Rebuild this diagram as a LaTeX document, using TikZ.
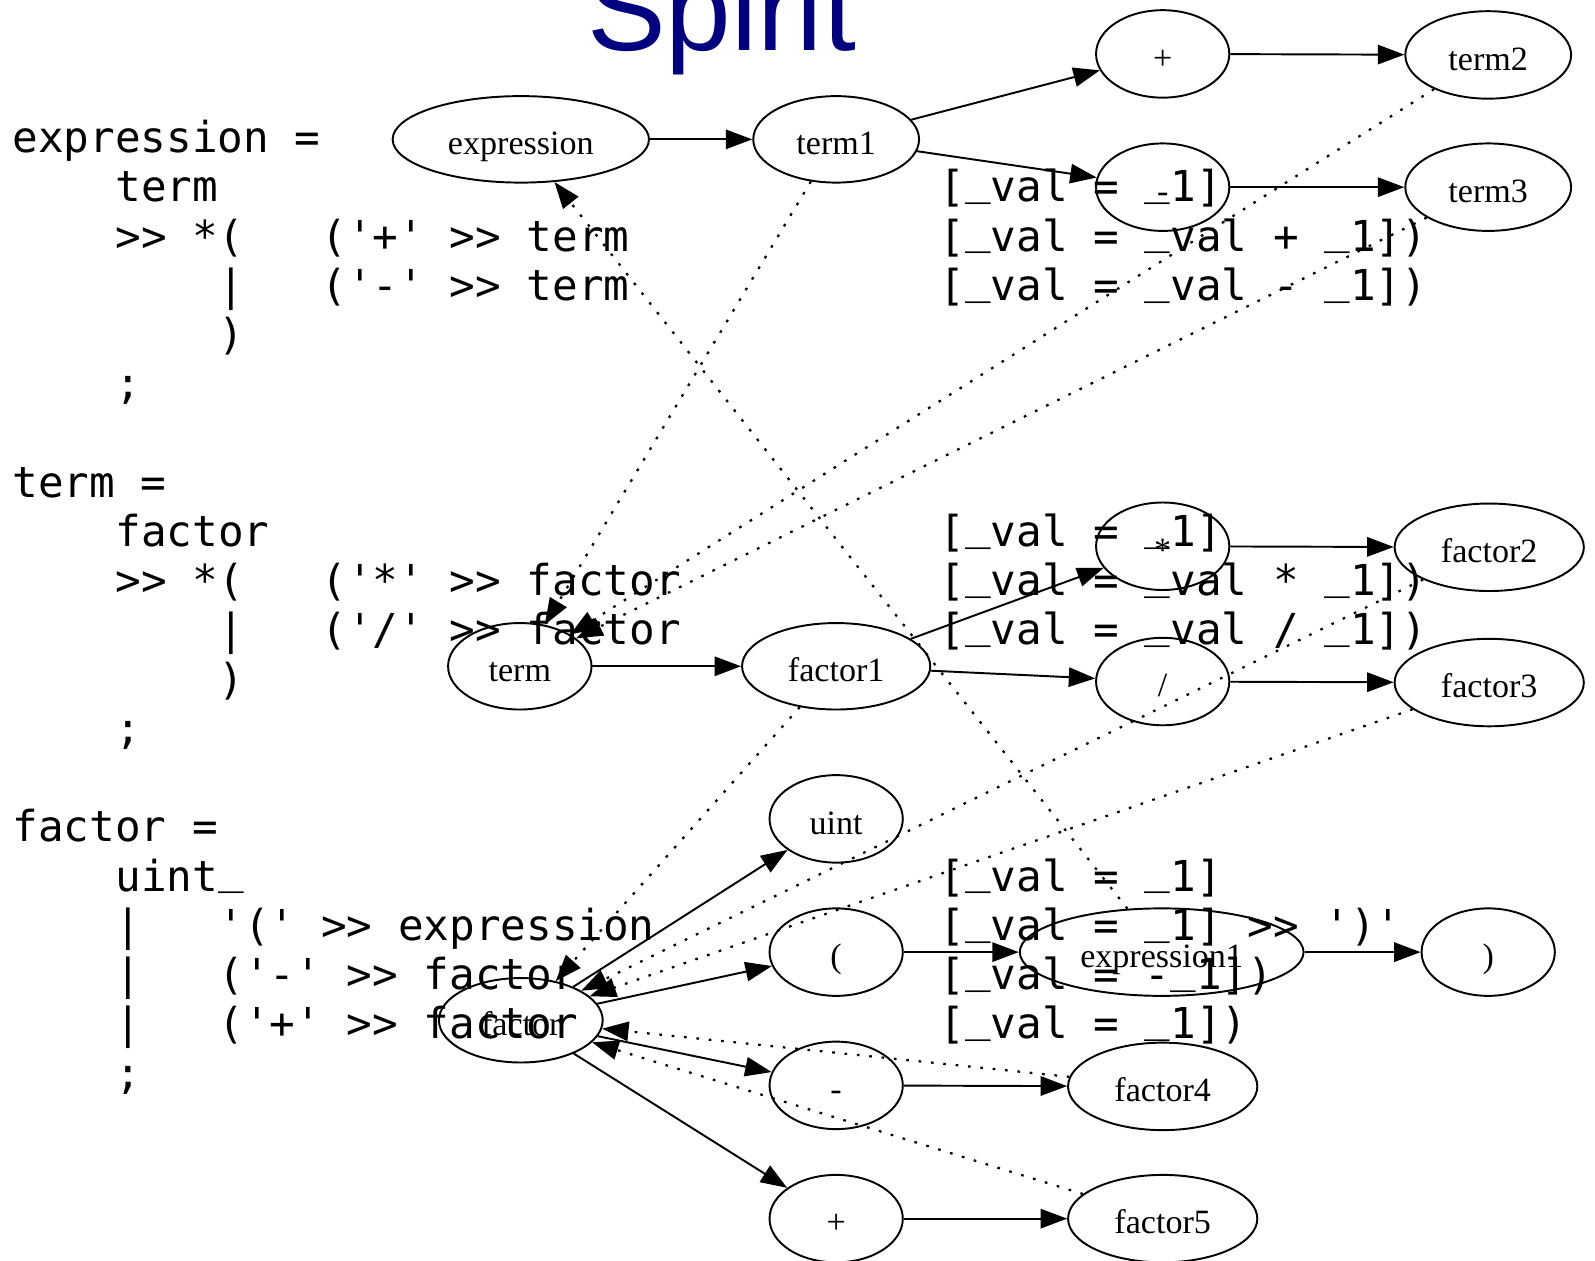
\documentclass[tikz,border=0pt]{standalone}
\usepackage{fontspec}
\setmainfont{Liberation Serif}
\setsansfont{Liberation Sans}
\setmonofont{DejaVu Sans Mono}[WordSpace={1,0,0}]
\usetikzlibrary{shapes.geometric,arrows.meta}
\definecolor{spiritblue}{RGB}{0,0,128}
% underscore sitting on the baseline
\newcommand\us{\raisebox{0.17em}{\_}}

\begin{document}
\begin{tikzpicture}[x=1pt,y=-1pt,
  gnode/.style={ellipse, draw, line width=1.9pt, inner sep=0pt,
    font=\fontsize{33.5}{36}\selectfont, text height=30pt, text depth=0pt},
  opnode/.style={gnode, minimum width=131pt, minimum height=86pt},
  edge/.style={line width=1.9pt, -{Triangle[length=26pt,width=19pt]}},
  refedge/.style={edge, line width=2.2pt, dash pattern=on 2.6pt off 9.6pt},
  code/.style={anchor=base west, inner sep=0pt,
    font=\ttfamily\frenchspacing\fontsize{41.9}{48.4}\selectfont},
  title/.style={anchor=base west, inner sep=0pt, text=spiritblue,
    font=\sffamily\fontsize{116}{116}\selectfont}]

\useasboundingbox (0,0) rectangle (1568,1239);
\clip (0,0) rectangle (1568,1239);

\node[title] (title) at (577,50) {Spirit};

% ---- expression rule ----
\node[gnode, minimum width=252pt, minimum height=85pt] (expr)   at (512,137) {expression};
\node[gnode, minimum width=163pt, minimum height=85pt] (term1)  at (822,137) {term1};
\node[opnode]                                          (plusA)  at (1143,53) {+};
\node[gnode, minimum width=163pt, minimum height=86pt] (term2)  at (1463,54) {term2};
\node[opnode]                                          (minusA) at (1143,184) {-};
\node[gnode, minimum width=163pt, minimum height=86pt] (term3)  at (1463,184) {term3};

% ---- term rule ----
\node[gnode, minimum width=141pt, minimum height=85pt] (term)    at (511,655) {term};
\node[gnode, minimum width=185pt, minimum height=85pt] (factor1) at (822,655) {factor1};
\node[opnode]                                          (star)    at (1143,537) {*};
\node[gnode, minimum width=186pt, minimum height=86pt] (factor2) at (1464,538) {factor2};
\node[opnode]                                          (slash)   at (1143,670) {/};
\node[gnode, minimum width=186pt, minimum height=86pt] (factor3) at (1464,671) {factor3};

% ---- factor rule ----
\node[gnode, minimum width=161pt, minimum height=83pt] (factor)  at (512,1003) {factor};
\node[opnode]                                          (uint)    at (822,805) {uint};
\node[opnode]                                          (lpar)    at (822,936) {(};
\node[gnode, minimum width=279pt, minimum height=86pt] (expr1)   at (1142,936) {expression1};
\node[opnode]                                          (rpar)    at (1463,936) {)};
\node[opnode]                                          (minusB)  at (822,1067) {-};
\node[gnode, minimum width=186pt, minimum height=86pt] (factor4) at (1143,1068) {factor4};
\node[opnode]                                          (plusB)   at (822,1198) {+};
\node[gnode, minimum width=186pt, minimum height=86pt] (factor5) at (1143,1198) {factor5};

% sequence edges
\draw[edge] (expr) -- (term1);
\draw[edge] (term1) -- (plusA);
\draw[edge] (term1) -- (minusA);
\draw[edge] (plusA) -- (term2);
\draw[edge] (minusA) -- (term3);
\draw[edge] (term) -- (factor1);
\draw[edge] (factor1) -- (star);
\draw[edge] (factor1) -- (slash);
\draw[edge] (star) -- (factor2);
\draw[edge] (slash) -- (factor3);
\draw[edge] (factor) -- (uint);
\draw[edge] (factor) -- (lpar);
\draw[edge] (lpar) -- (expr1);
\draw[edge] (expr1) -- (rpar);
\draw[edge] (factor) -- (minusB);
\draw[edge] (factor) -- (plusB);
\draw[edge] (minusB) -- (factor4);
\draw[edge] (plusB) -- (factor5);

% references back to the rule definitions
\draw[refedge] (term1) -- (term);
\draw[refedge] (term2) -- (term);
\draw[refedge] (term3) -- (term);
\draw[refedge] (factor1) -- (factor);
\draw[refedge] (factor2) -- (factor);
\draw[refedge] (factor3) -- (factor);
\draw[refedge] (factor4) -- (factor);
\draw[refedge] (factor5) -- (factor);
\draw[refedge] (expr1) -- (expr);

% ---- grammar source ----
\def\xo{12}\def\yo{150}\def\cw{25.32}\def\lh{48.4}
\node[code] (s0)   at ({\xo},{\yo}) {expression =};
\node[code] (s1a)  at ({\xo+4*\cw},{\yo+1*\lh}) {term};
\node[code] (s1b)  at ({\xo+36*\cw},{\yo+1*\lh}) {[\us val = \us 1]};
\node[code] (s2a)  at ({\xo+4*\cw},{\yo+2*\lh}) {>> *(};
\node[code] (s2b)  at ({\xo+12*\cw},{\yo+2*\lh}) {('+' >> term};
\node[code] (s2c)  at ({\xo+36*\cw},{\yo+2*\lh}) {[\us val = \us val + \us 1])};
\node[code] (s3a)  at ({\xo+8*\cw},{\yo+3*\lh}) {|};
\node[code] (s3b)  at ({\xo+12*\cw},{\yo+3*\lh}) {('-' >> term};
\node[code] (s3c)  at ({\xo+36*\cw},{\yo+3*\lh}) {[\us val = \us val - \us 1])};
\node[code] (s4)   at ({\xo+8*\cw},{\yo+4*\lh}) {)};
\node[code] (s5)   at ({\xo+4*\cw},{\yo+5*\lh}) {;};

\node[code] (s7)   at ({\xo},{\yo+7*\lh}) {term =};
\node[code] (s8a)  at ({\xo+4*\cw},{\yo+8*\lh}) {factor};
\node[code] (s8b)  at ({\xo+36*\cw},{\yo+8*\lh}) {[\us val = \us 1]};
\node[code] (s9a)  at ({\xo+4*\cw},{\yo+9*\lh}) {>> *(};
\node[code] (s9b)  at ({\xo+12*\cw},{\yo+9*\lh}) {('*' >> factor};
\node[code] (s9c)  at ({\xo+36*\cw},{\yo+9*\lh}) {[\us val = \us val * \us 1])};
\node[code] (s10a) at ({\xo+8*\cw},{\yo+10*\lh}) {|};
\node[code] (s10b) at ({\xo+12*\cw},{\yo+10*\lh}) {('/' >> factor};
\node[code] (s10c) at ({\xo+36*\cw},{\yo+10*\lh}) {[\us val = \us val / \us 1])};
\node[code] (s11)  at ({\xo+8*\cw},{\yo+11*\lh}) {)};
\node[code] (s12)  at ({\xo+4*\cw},{\yo+12*\lh}) {;};

\node[code] (s14)  at ({\xo},{\yo+14*\lh}) {factor =};
\node[code] (s15a) at ({\xo+4*\cw},{\yo+15*\lh}) {uint\us};
\node[code] (s15b) at ({\xo+36*\cw},{\yo+15*\lh}) {[\us val = \us 1]};
\node[code] (s16a) at ({\xo+4*\cw},{\yo+16*\lh}) {|};
\node[code] (s16b) at ({\xo+8*\cw},{\yo+16*\lh}) {'(' >> expression};
\node[code] (s16c) at ({\xo+36*\cw},{\yo+16*\lh}) {[\us val = \us 1] >> ')'};
\node[code] (s17a) at ({\xo+4*\cw},{\yo+17*\lh}) {|};
\node[code] (s17b) at ({\xo+8*\cw},{\yo+17*\lh}) {('-' >> factor};
\node[code] (s17c) at ({\xo+36*\cw},{\yo+17*\lh}) {[\us val = -\us 1])};
\node[code] (s18a) at ({\xo+4*\cw},{\yo+18*\lh}) {|};
\node[code] (s18b) at ({\xo+8*\cw},{\yo+18*\lh}) {('+' >> factor};
\node[code] (s18c) at ({\xo+36*\cw},{\yo+18*\lh}) {[\us val = \us 1])};
\node[code] (s19)  at ({\xo+4*\cw},{\yo+19*\lh}) {;};
\end{tikzpicture}
\end{document}
